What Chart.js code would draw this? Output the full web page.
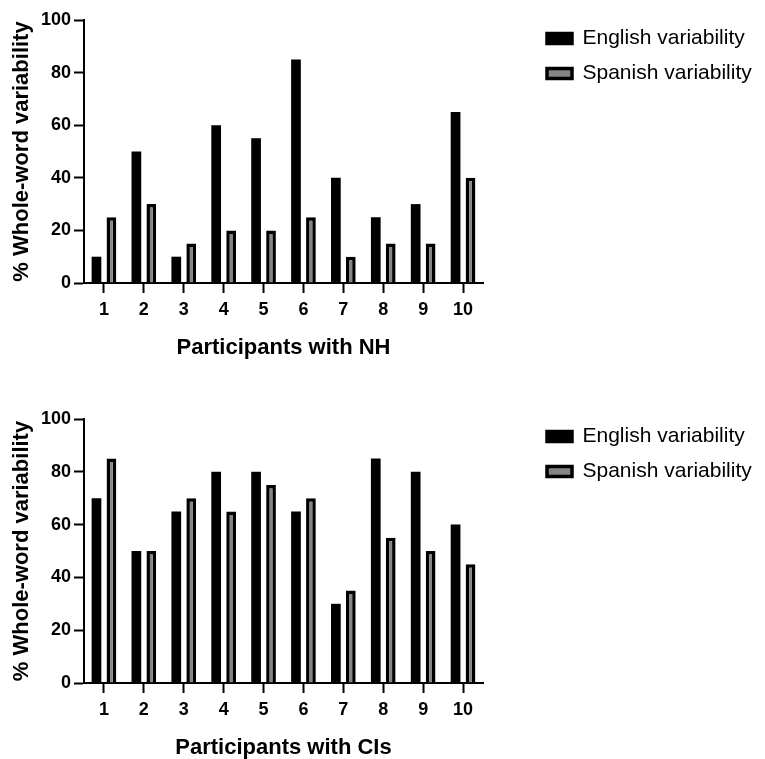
<!DOCTYPE html>
<html>
<head>
<meta charset="utf-8">
<script src="https://cdn.jsdelivr.net/npm/chart.js@4.4.1/dist/chart.umd.min.js"></script>
<style>
  html, body { margin: 0; padding: 0; background: #fff; overflow: hidden; }
  body { width: 765px; height: 759px; position: relative; }
  canvas { position: absolute; left: 0; }
  #nhChart { top: 0; }
  #ciChart { top: 380px; }
</style>
</head>
<body>
<canvas id="nhChart" width="765" height="380"></canvas>
<canvas id="ciChart" width="765" height="400"></canvas>
<script>
var participants = ['1', '2', '3', '4', '5', '6', '7', '8', '9', '10'];
var yTicks = [0, 20, 40, 60, 80, 100];

var nhEnglish = [10, 50, 10, 60, 55, 85, 40, 25, 30, 65];
var nhSpanish = [25, 30, 15, 20, 20, 25, 10, 15, 15, 40];

var ciEnglish = [70, 50, 65, 80, 80, 65, 30, 85, 80, 60];
var ciSpanish = [85, 50, 70, 65, 75, 70, 35, 55, 50, 45];

var seriesNames = ['English variability', 'Spanish variability'];
var yTitle = '% Whole-word variability';

Chart.defaults.font.family = '"Liberation Sans", Arial, Helvetica, sans-serif';
Chart.defaults.color = '#000';

// legend sits at the right, pinned so the plot ends at x=483
function legendPlugin(legendTop) {
  return {
    id: 'legendPlace',
    beforeInit: function (chart) {
      var fit = chart.legend.fit;
      chart.legend.fit = function () {
        fit.bind(chart.legend)();
        this.width = 282;
      };
    },
    afterLayout: function (chart) {
      chart.legend.left = 533;
      chart.legend.top = legendTop;
    }
  };
}

function legendLabels(chart) {
  var items = Chart.defaults.plugins.legend.labels.generateLabels(chart);
  items.forEach(function (it) {
    it.lineWidth = 3.5;
    it.strokeStyle = '#000';
  });
  return items;
}

function buildChart(id, english, spanish, xTitle, topPad, legendTop) {
  var ctx = document.getElementById(id);
  return new Chart(ctx, {
    type: 'bar',
    data: {
      labels: participants,
      datasets: [{
        label: seriesNames[0],
        data: english,
        backgroundColor: '#000',
        borderColor: '#000',
        borderWidth: 0
      }, {
        label: seriesNames[1],
        data: spanish,
        backgroundColor: '#858585',
        borderColor: '#000',
        borderWidth: 3.5
      }]
    },
    options: {
      responsive: false,
      animation: false,
      devicePixelRatio: 1,
      categoryPercentage: 0.75,
      barPercentage: 0.65,
      layout: { padding: { top: topPad, left: 0, right: 0, bottom: 0 } },
      plugins: {
        tooltip: { enabled: false },
        legend: {
          position: 'right',
          align: 'start',
          labels: {
            boxWidth: 25,
            boxHeight: 10,
            padding: 14,
            color: '#000',
            font: { size: 21 },
            generateLabels: legendLabels
          }
        }
      },
      scales: {
        x: {
          grid: {
            offset: false,
            drawOnChartArea: false,
            color: '#000',
            tickLength: 10,
            tickWidth: 2
          },
          border: { color: '#000', width: 2 },
          ticks: {
            padding: 6,
            color: '#000',
            maxRotation: 0,
            font: { size: 18, weight: 'bold' }
          },
          title: {
            display: true,
            text: xTitle,
            color: '#000',
            padding: { top: 0, bottom: 19 },
            font: { size: 22, weight: 'bold' }
          },
          afterFit: function (scale) { scale.height = 97; }
        },
        y: {
          min: 0,
          max: 100,
          afterBuildTicks: function (scale) {
            scale.ticks = yTicks.map(function (v) { return { value: v }; });
          },
          grid: {
            drawOnChartArea: false,
            color: '#000',
            tickLength: 10,
            tickWidth: 2
          },
          border: { color: '#000', width: 2 },
          ticks: {
            padding: 3,
            color: '#000',
            font: { size: 18, weight: 'bold' }
          },
          title: {
            display: true,
            text: yTitle,
            color: '#000',
            padding: { top: 9, bottom: 0 },
            font: { size: 22, weight: 'bold' }
          },
          afterFit: function (scale) { scale.width = 84; }
        }
      }
    },
    plugins: [legendPlugin(legendTop)]
  });
}

buildChart('nhChart', nhEnglish, nhSpanish, 'Participants with NH', 20, 14);
buildChart('ciChart', ciEnglish, ciSpanish, 'Participants with CIs', 39, 32);
</script>
</body>
</html>
